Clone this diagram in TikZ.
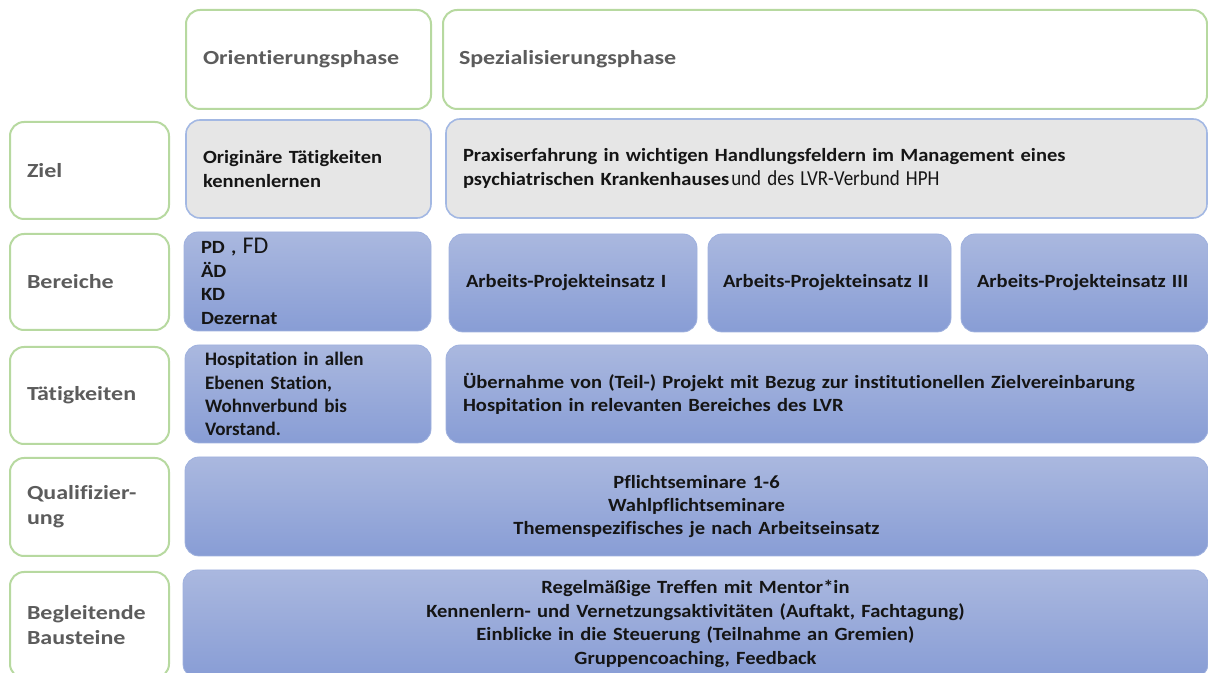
\documentclass[tikz,border=0pt]{standalone}
\usepackage{fontspec}
\setmainfont[Ligatures=NoCommon]{Carlito}
\newfontfamily\bodyf[FakeStretch=1.1,Ligatures=NoCommon]{Carlito}
\newfontfamily\labf[FakeStretch=1.2,Ligatures=NoCommon]{Carlito}
\newfontfamily\condf[FakeStretch=0.89,Ligatures=NoCommon]{Carlito}
\definecolor{greenb}{HTML}{B7D9A0}
\definecolor{labgray}{HTML}{5C5C5C}
\definecolor{grayfill}{HTML}{E6E6E6}
\definecolor{grayb}{HTML}{A3B8E3}
\definecolor{bluetop}{HTML}{AAB8DF}
\definecolor{bluebot}{HTML}{889DD5}
\definecolor{blueedge}{HTML}{9FB1DE}
\definecolor{textc}{HTML}{151515}
\begin{document}
\begin{tikzpicture}[x=0.75pt,y=-0.75pt,
  every node/.style={inner ysep=0pt, outer sep=0pt},
  labbox/.style={draw=greenb, line width=1.5pt, fill=white, rounded corners=10.5pt,
    text width=93.75pt, inner xsep=12.75pt, align=left, text=labgray,
    font=\labf\bfseries\fontsize{15}{19}\selectfont},
  headbox/.style={draw=greenb, line width=1.5pt, fill=white, rounded corners=10.5pt,
    align=left, text=labgray, minimum height=74.25pt,
    font=\labf\bfseries\fontsize{15}{19}\selectfont},
  graybox/.style={draw=grayb, line width=1.2pt, fill=grayfill, rounded corners=10.5pt,
    align=left, text=textc, font=\bodyf\bfseries\fontsize{14}{17.8}\selectfont},
  bluebox/.style={draw=blueedge, line width=0.6pt, top color=bluetop, bottom color=bluebot,
    rounded corners=10.5pt, align=left, text=textc,
    font=\bodyf\bfseries\fontsize{14}{17.6}\selectfont}
]
\useasboundingbox (0,0) rectangle (1208,673);

% header
\node[headbox, text width=158.25pt, inner xsep=12.75pt] (orient) at (308.5,59.5) {Orientierungsphase};
\node[headbox, text width=549pt, inner xsep=12pt] (spez) at (825,59.5) {Spezialisierungsphase};

% left labels
\node[labbox, minimum height=72.75pt] (ziel) at (89.5,170.5) {Ziel};
\node[labbox, minimum height=72pt] (ber) at (89.5,282) {Bereiche};
\node[labbox, minimum height=72.75pt] (taet) at (89.5,395.5) {Tätigkeiten};
\node[labbox, minimum height=73.5pt] (qual) at (89.5,507) {Qualifizier-\\ung};
\node[labbox, minimum height=79.5pt] (begl) at (89.5,625) {Begleitende\\Bausteine};

% Ziel row
\node[graybox, text width=158.25pt, inner xsep=12.75pt, minimum height=73.5pt] (zl) at (308.5,169) {Originäre Tätigkeiten\\kennenlernen};
\node[graybox, text width=545.25pt, inner xsep=12.75pt, minimum height=74.25pt] (zr) at (826.5,168.5)
  {Praxiserfahrung in wichtigen Handlungsfeldern im Management eines\\psychiatrischen Krankenhauses\hspace{1.5pt}{\condf\mdseries\fontsize{16}{17.8}\selectfont und des LVR-Verbund HPH}};

% Bereiche row
\node[bluebox, text width=159.75pt, inner xsep=12.75pt, minimum height=74.25pt] (bl) at (307.5,281.5)
  {PD , {\rmfamily\mdseries\fontsize{18}{17.6}\selectfont FD}\\ÄD\\KD\\Dezernat};
\node[bluebox, text width=160.5pt, inner xsep=12.75pt, minimum height=73.5pt] (a1) at (573,283) {Arbeits-Projekteinsatz I};
\node[bluebox, text width=159.75pt, inner xsep=11.25pt, minimum height=73.5pt] (a2) at (829.5,283) {Arbeits-Projekteinsatz II};
\node[bluebox, text width=161.25pt, inner xsep=12pt, minimum height=73.5pt] (a3) at (1084.5,283) {Arbeits-Projekteinsatz III};

% Taetigkeiten row
\node[bluebox, text width=154.5pt, inner xsep=15pt, minimum height=73.5pt,
  font=\rmfamily\fontsize{14.3}{17.4}\selectfont\bfseries] (tl) at (308,394)
  {Hospitation in allen\\Ebenen Station,\\Wohnverbund bis\\Vorstand.};
\node[bluebox, text width=546pt, inner xsep=12.75pt, minimum height=73.5pt] (tr) at (827,394)
  {Übernahme von (Teil-) Projekt mit Bezug zur institutionellen Zielvereinbarung\\Hospitation in relevanten Bereiches des LVR};

% Qualifizierung
\node[bluebox, align=center, text width=743.25pt, inner xsep=12pt, minimum height=74.25pt] (qb) at (696.5,506.5)
  {Pflichtseminare 1-6\\Wahlpflichtseminare\\Themenspezifisches je nach Arbeitseinsatz};

% Begleitende Bausteine
\node[bluebox, align=center, text width=744.75pt, inner xsep=12pt, minimum height=81pt] (bb) at (695.5,624)
  {Regelmäßige Treffen mit Mentor*in\\Kennenlern- und Vernetzungsaktivitäten (Auftakt, Fachtagung)\\Einblicke in die Steuerung (Teilnahme an Gremien)\\Gruppencoaching, Feedback};
\end{tikzpicture}
\end{document}
